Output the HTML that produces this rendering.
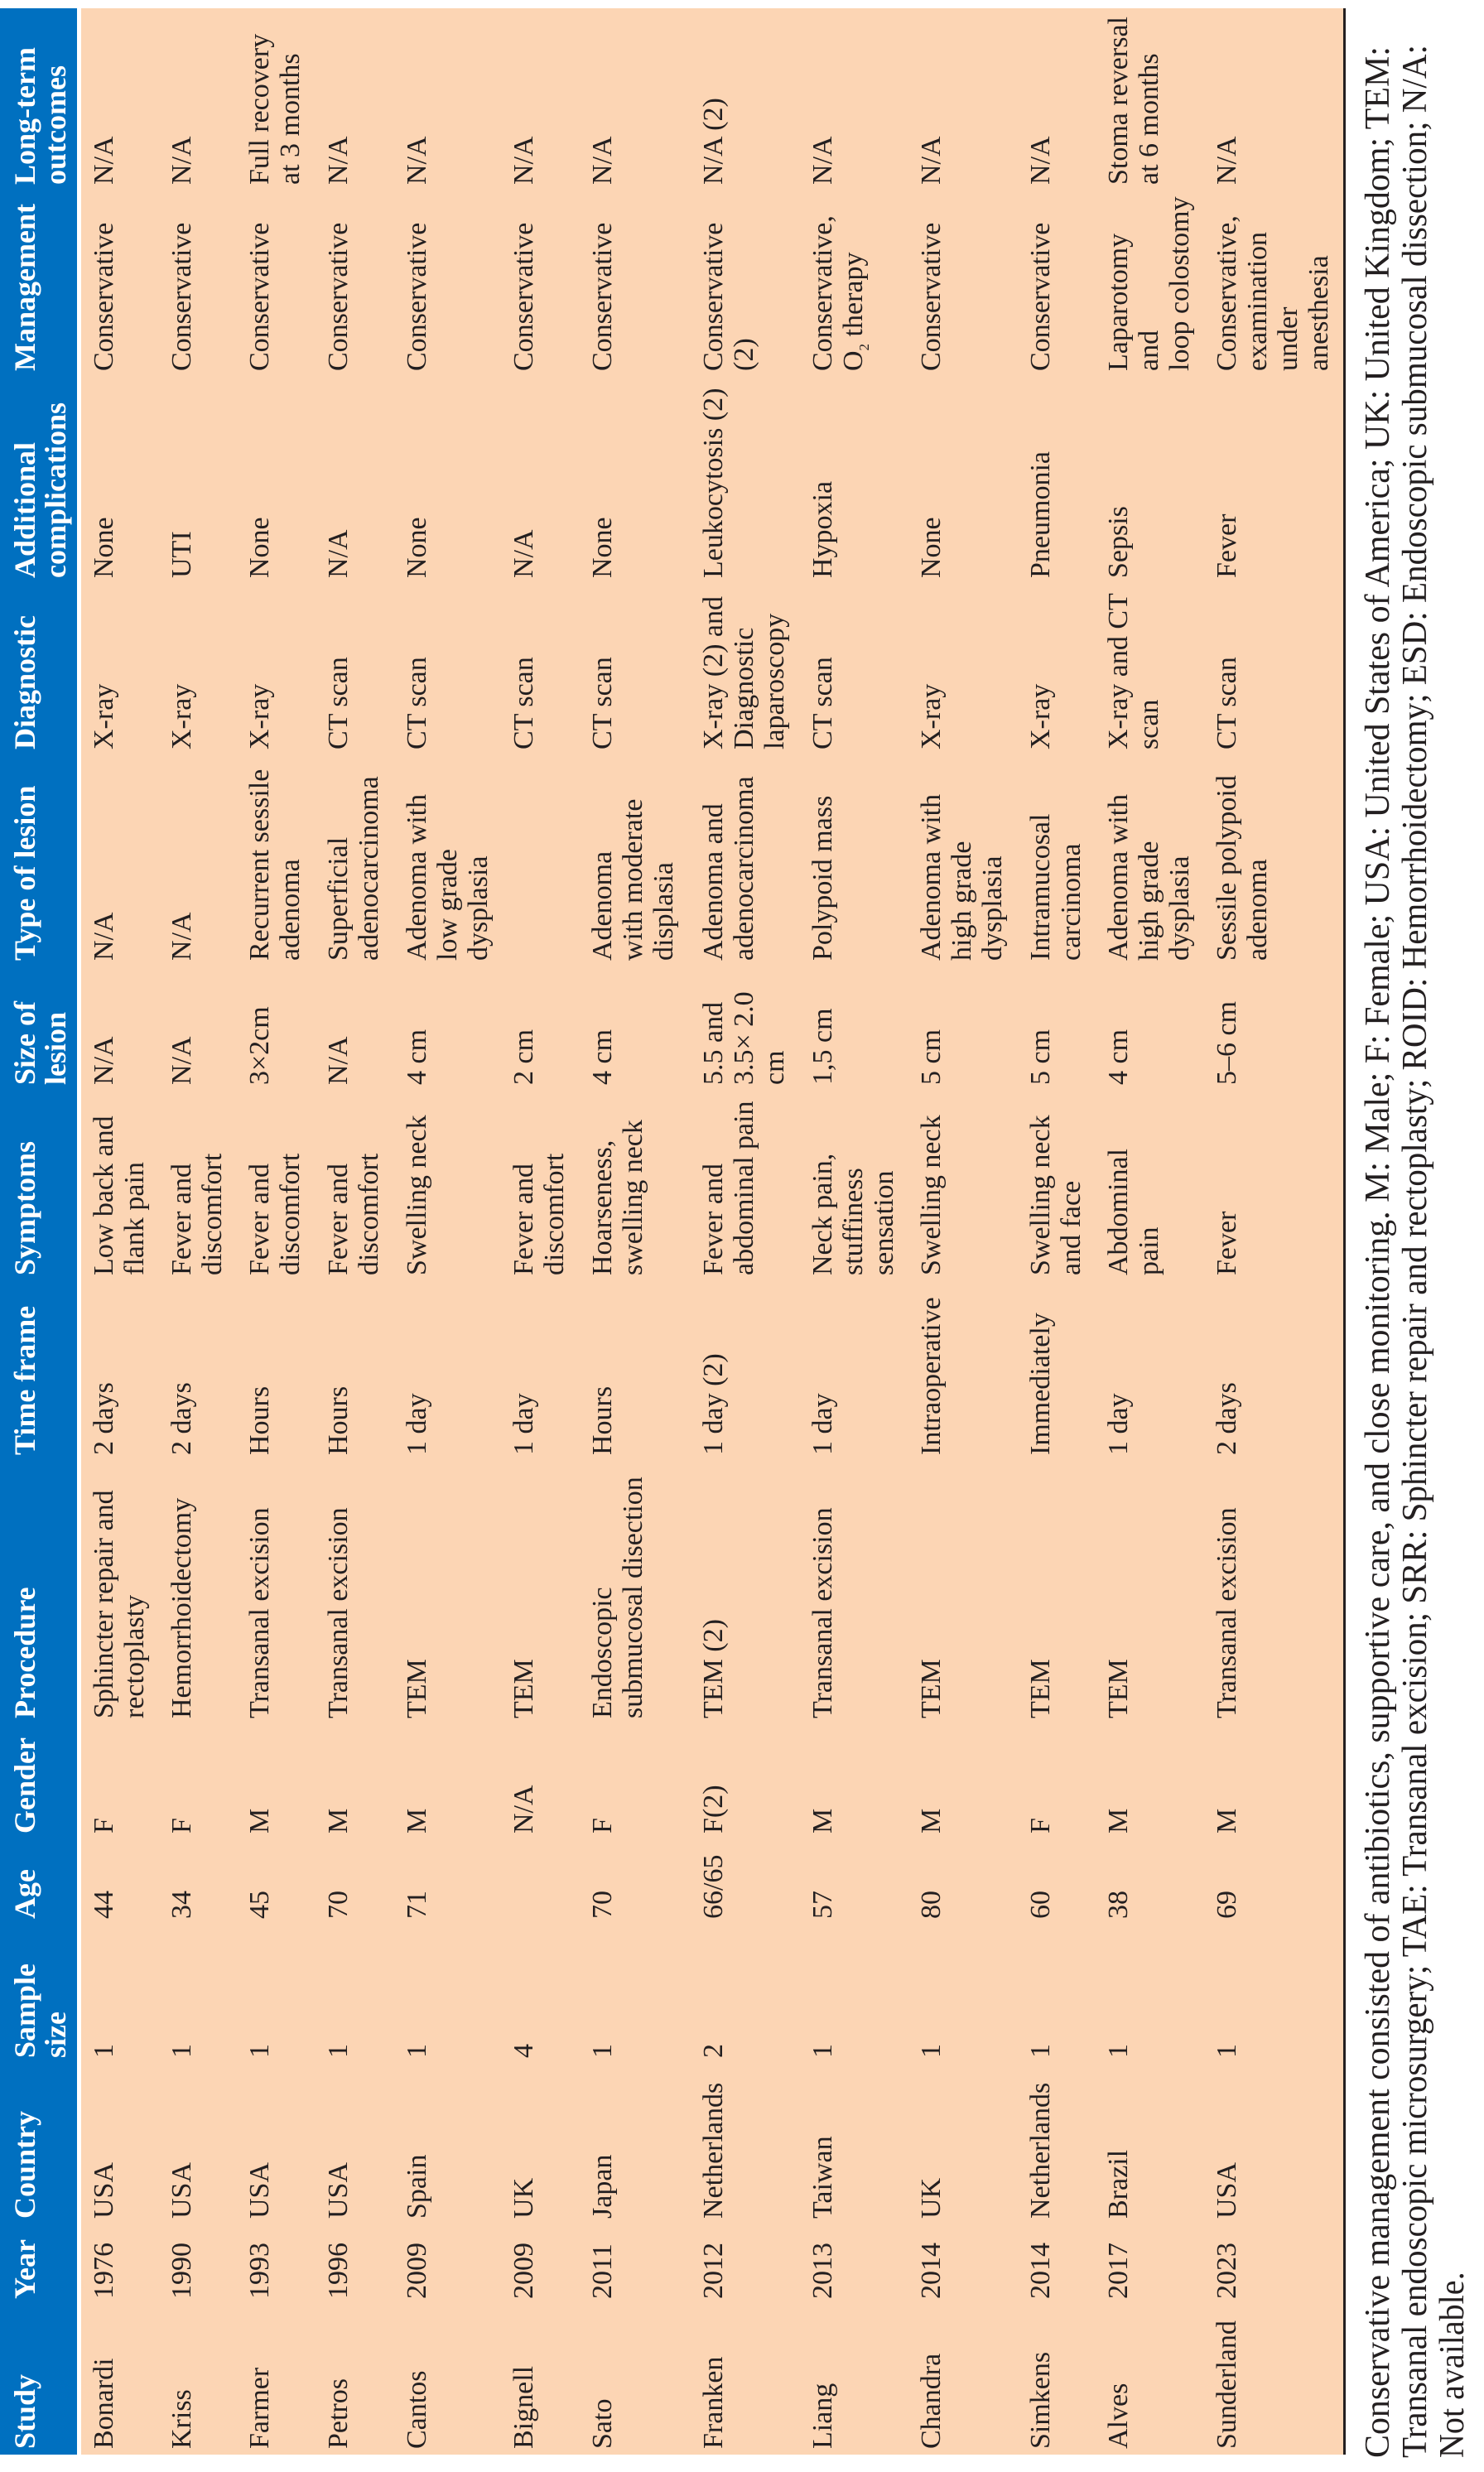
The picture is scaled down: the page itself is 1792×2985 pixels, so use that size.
<!DOCTYPE html>
<html>
<head>
<meta charset="utf-8">
<style>
html,body{margin:0;padding:0;background:#ffffff;}
body{width:1792px;height:2985px;overflow:hidden;position:relative;font-family:"Liberation Serif",serif;}
#rot{position:absolute;left:0;top:2985px;width:2985px;height:1792px;transform-origin:0 0;transform:rotate(-90deg);}
#rot .blk{position:absolute;}
.r{position:absolute;left:0;width:2985px;height:0;font-size:34px;line-height:37px;color:#231f20;}
.r>div{position:absolute;top:0;white-space:nowrap;}
.h{font-weight:bold;font-size:36px;line-height:37px;color:#ffffff;}
.c1{left:28px}.c2{left:209px}.c3{left:306px}.c4{left:500px}.c5{left:668px}
.c6{left:771px}.c7{left:910px}.c8{left:1228px}.c9{left:1445px}.c10{left:1675px}
.c11{left:1825px}.c12{left:2080px}.c13{left:2287px}.c14{left:2537px}.c15{left:2762px}
.sub{font-size:17px;position:relative;top:8px;line-height:0;}
#fn{position:absolute;left:17px;top:1642px;font-size:42px;line-height:45px;color:#231f20;}
#fn .fit{display:inline-block;white-space:nowrap;transform-origin:0 0;}
#fn .ln{height:45px;}
</style>
</head>
<body>
<div id="rot">
  <div class="blk" style="left:21px;top:0;width:2954px;height:93px;background:#0070c0;"></div>
  <div class="blk" style="left:21px;top:97.6px;width:2954px;height:1524.4px;background:#fcd5b4;"></div>
  <div class="blk" style="left:21px;top:1622px;width:2954px;height:3px;background:#231f20;"></div>

  <div class="r h" style="top:12px">
    <div class="c1">Study</div><div class="c2">Year</div><div class="c3">Country</div>
    <div class="c4">Sample<br>size</div><div class="c5">Age</div><div class="c6">Gender</div>
    <div class="c7">Procedure</div><div class="c8">Time frame</div><div class="c9">Symptoms</div>
    <div class="c10">Size of<br>lesion</div><div class="c11">Type of lesion</div><div class="c12">Diagnostic</div>
    <div class="c13">Additional<br>complications</div><div class="c14">Management</div><div class="c15">Long-term<br>outcomes</div>
  </div>

  <div class="r" style="top:107px">
    <div class="c1">Bonardi</div><div class="c2">1976</div><div class="c3">USA</div><div class="c4">1</div><div class="c5">44</div><div class="c6">F</div>
    <div class="c7">Sphincter repair and<br>rectoplasty</div><div class="c8">2 days</div><div class="c9">Low back and<br>flank pain</div>
    <div class="c10">N/A</div><div class="c11">N/A</div><div class="c12">X-ray</div><div class="c13">None</div><div class="c14">Conservative</div><div class="c15">N/A</div>
  </div>

  <div class="r" style="top:201px">
    <div class="c1">Kriss</div><div class="c2">1990</div><div class="c3">USA</div><div class="c4">1</div><div class="c5">34</div><div class="c6">F</div>
    <div class="c7">Hemorrhoidectomy</div><div class="c8">2 days</div><div class="c9">Fever and<br>discomfort</div>
    <div class="c10">N/A</div><div class="c11">N/A</div><div class="c12">X-ray</div><div class="c13">UTI</div><div class="c14">Conservative</div><div class="c15">N/A</div>
  </div>

  <div class="r" style="top:295px">
    <div class="c1">Farmer</div><div class="c2">1993</div><div class="c3">USA</div><div class="c4">1</div><div class="c5">45</div><div class="c6">M</div>
    <div class="c7">Transanal excision</div><div class="c8">Hours</div><div class="c9">Fever and<br>discomfort</div>
    <div class="c10">3×2cm</div><div class="c11">Recurrent sessile<br>adenoma</div><div class="c12">X-ray</div><div class="c13">None</div><div class="c14">Conservative</div><div class="c15">Full recovery<br>at 3 months</div>
  </div>

  <div class="r" style="top:390px">
    <div class="c1">Petros</div><div class="c2">1996</div><div class="c3">USA</div><div class="c4">1</div><div class="c5">70</div><div class="c6">M</div>
    <div class="c7">Transanal excision</div><div class="c8">Hours</div><div class="c9">Fever and<br>discomfort</div>
    <div class="c10">N/A</div><div class="c11">Superficial<br>adenocarcinoma</div><div class="c12">CT scan</div><div class="c13">N/A</div><div class="c14">Conservative</div><div class="c15">N/A</div>
  </div>

  <div class="r" style="top:485px">
    <div class="c1">Cantos</div><div class="c2">2009</div><div class="c3">Spain</div><div class="c4">1</div><div class="c5">71</div><div class="c6">M</div>
    <div class="c7">TEM</div><div class="c8">1 day</div><div class="c9">Swelling neck</div>
    <div class="c10">4 cm</div><div class="c11">Adenoma with<br>low grade<br>dysplasia</div><div class="c12">CT scan</div><div class="c13">None</div><div class="c14">Conservative</div><div class="c15">N/A</div>
  </div>

  <div class="r" style="top:614px">
    <div class="c1">Bignell</div><div class="c2">2009</div><div class="c3">UK</div><div class="c4">4</div><div class="c6">N/A</div>
    <div class="c7">TEM</div><div class="c8">1 day</div><div class="c9">Fever and<br>discomfort</div>
    <div class="c10">2 cm</div><div class="c12">CT scan</div><div class="c13">N/A</div><div class="c14">Conservative</div><div class="c15">N/A</div>
  </div>

  <div class="r" style="top:709px">
    <div class="c1">Sato</div><div class="c2">2011</div><div class="c3">Japan</div><div class="c4">1</div><div class="c5">70</div><div class="c6">F</div>
    <div class="c7">Endoscopic<br>submucosal disection</div><div class="c8">Hours</div><div class="c9">Hoarseness,<br>swelling neck</div>
    <div class="c10">4 cm</div><div class="c11">Adenoma<br>with moderate<br>displasia</div><div class="c12">CT scan</div><div class="c13">None</div><div class="c14">Conservative</div><div class="c15">N/A</div>
  </div>

  <div class="r" style="top:843px">
    <div class="c1">Franken</div><div class="c2">2012</div><div class="c3">Netherlands</div><div class="c4">2</div><div class="c5">66/65</div><div class="c6">F(2)</div>
    <div class="c7">TEM (2)</div><div class="c8">1 day (2)</div><div class="c9">Fever and<br>abdominal pain</div>
    <div class="c10">5.5 and<br>3.5× 2.0<br>cm</div><div class="c11">Adenoma and<br>adenocarcinoma</div><div class="c12">X-ray (2) and<br>Diagnostic<br>laparoscopy</div><div class="c13">Leukocytosis (2)</div><div class="c14">Conservative<br>(2)</div><div class="c15">N/A (2)</div>
  </div>

  <div class="r" style="top:975px">
    <div class="c1">Liang</div><div class="c2">2013</div><div class="c3">Taiwan</div><div class="c4">1</div><div class="c5">57</div><div class="c6">M</div>
    <div class="c7">Transanal excision</div><div class="c8">1 day</div><div class="c9">Neck pain,<br>stuffiness<br>sensation</div>
    <div class="c10">1,5 cm</div><div class="c11">Polypoid mass</div><div class="c12">CT scan</div><div class="c13">Hypoxia</div><div class="c14">Conservative,<br>O<span class="sub">2</span> therapy</div><div class="c15">N/A</div>
  </div>

  <div class="r" style="top:1106px">
    <div class="c1">Chandra</div><div class="c2">2014</div><div class="c3">UK</div><div class="c4">1</div><div class="c5">80</div><div class="c6">M</div>
    <div class="c7">TEM</div><div class="c8">Intraoperative</div><div class="c9">Swelling neck</div>
    <div class="c10">5 cm</div><div class="c11">Adenoma with<br>high grade<br>dysplasia</div><div class="c12">X-ray</div><div class="c13">None</div><div class="c14">Conservative</div><div class="c15">N/A</div>
  </div>

  <div class="r" style="top:1238px">
    <div class="c1">Simkens</div><div class="c2">2014</div><div class="c3">Netherlands</div><div class="c4">1</div><div class="c5">60</div><div class="c6">F</div>
    <div class="c7">TEM</div><div class="c8">Immediately</div><div class="c9">Swelling neck<br>and face</div>
    <div class="c10">5 cm</div><div class="c11">Intramucosal<br>carcinoma</div><div class="c12">X-ray</div><div class="c13">Pneumonia</div><div class="c14">Conservative</div><div class="c15">N/A</div>
  </div>

  <div class="r" style="top:1332px">
    <div class="c1">Alves</div><div class="c2">2017</div><div class="c3">Brazil</div><div class="c4">1</div><div class="c5">38</div><div class="c6">M</div>
    <div class="c7">TEM</div><div class="c8">1 day</div><div class="c9">Abdominal<br>pain</div>
    <div class="c10">4 cm</div><div class="c11">Adenoma with<br>high grade<br>dysplasia</div><div class="c12">X-ray and CT<br>scan</div><div class="c13">Sepsis</div><div class="c14">Laparotomy<br>and<br>loop colostomy</div><div class="c15">Stoma reversal<br>at 6 months</div>
  </div>

  <div class="r" style="top:1463px">
    <div class="c1">Sunderland</div><div class="c2">2023</div><div class="c3">USA</div><div class="c4">1</div><div class="c5">69</div><div class="c6">M</div>
    <div class="c7">Transanal excision</div><div class="c8">2 days</div><div class="c9">Fever</div>
    <div class="c10">5–6 cm</div><div class="c11">Sessile polypoid<br>adenoma</div><div class="c12">CT scan</div><div class="c13">Fever</div><div class="c14">Conservative,<br>examination<br>under<br>anesthesia</div><div class="c15">N/A</div>
  </div>

  <div id="fn">
    <div class="ln"><span class="fit">Conservative management consisted of antibiotics, supportive care, and close monitoring. M: Male; F: Female; USA: United States of America; UK: United Kingdom; TEM:</span></div>
    <div class="ln"><span class="fit">Transanal endoscopic microsurgery; TAE: Transanal excision; SRR: Sphincter repair and rectoplasty; ROID: Hemorrhoidectomy; ESD: Endoscopic submucosal dissection; N/A:</span></div>
    <div class="ln"><span class="fit">Not available.</span></div>
  </div>
</div>
<script>
(function(){
  var targets=[2912,2914,225];
  var els=document.querySelectorAll('#fn .fit');
  for(var i=0;i<els.length;i++){
    var w=els[i].offsetWidth;
    if(w>0){els[i].style.transform='scaleX('+(targets[i]/w)+')';}
  }
})();
</script>
</body>
</html>
